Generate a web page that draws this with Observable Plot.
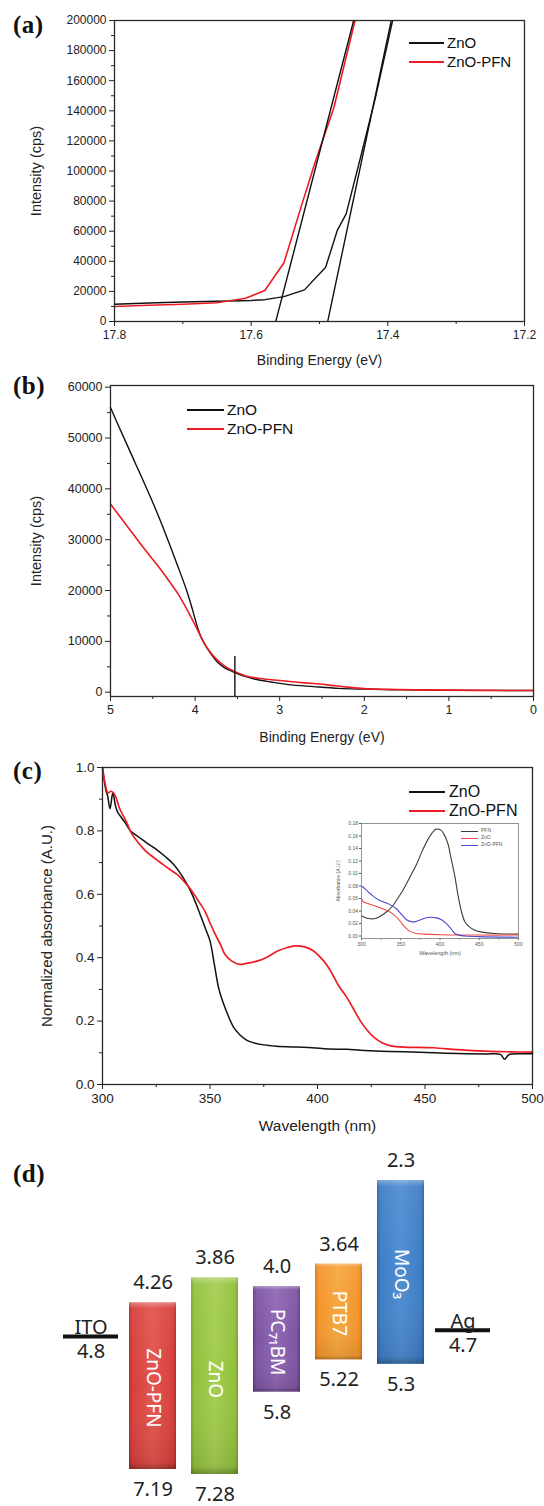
<!DOCTYPE html>
<html><head><meta charset="utf-8">
<script src="https://cdn.jsdelivr.net/npm/d3@7"></script>
<script src="https://cdn.jsdelivr.net/npm/@observablehq/plot@0.6"></script>
<style>
body{margin:0;background:#fff;}
#fig{position:relative;width:544px;height:1506px;overflow:hidden;background:#fff;font-family:"Liberation Sans",Arial,Helvetica,sans-serif;color:#222;}
.plabel{position:absolute;left:13px;font-family:"Liberation Serif","Times New Roman",serif;font-weight:bold;font-size:25px;line-height:1;letter-spacing:0.5px;color:#111;}
</style></head>
<body>
<svg width="0" height="0" style="position:absolute;left:0;top:0"><defs id="gdefs"></defs></svg>
<div id="fig"></div>
<script>
// ---------------- DATA ----------------
// (a) secondary-electron cutoff region
const aXDomain = [17.8, 17.2];
const aYDomain = [0, 200000];
const aXTicks = [17.8, 17.6, 17.4, 17.2];
const aXMinor = [17.7, 17.5, 17.3];
const aYTicks = [0, 20000, 40000, 60000, 80000, 100000, 120000, 140000, 160000, 180000, 200000];
const aYMinor = [10000, 30000, 50000, 70000, 90000, 110000, 130000, 150000, 170000, 190000];
const aZnO = [[17.8,11500],[17.75,12300],[17.7,13000],[17.65,13500],[17.6,14000],[17.58,14500],[17.552,16500],[17.522,21000],[17.491,36000],[17.474,60500],[17.461,71500],[17.44,109000],[17.418,149000],[17.393,200000]];
const aPFN = [[17.8,10000],[17.75,10800],[17.7,11500],[17.65,12500],[17.608,15500],[17.58,20600],[17.552,39000],[17.527,76000],[17.507,105000],[17.479,142000],[17.448,200000]];
const aFit1 = [[17.564,0],[17.450,200000]];
const aFit2 = [[17.488,0],[17.395,200000]];

// (b) valence band region
const bXDomain = [5, 0];
const bYDomain = [-846, 60330];
const bXTicks = [5, 4, 3, 2, 1, 0];
const bXMinor = [4.5, 3.5, 2.5, 1.5, 0.5];
const bYTicks = [0, 10000, 20000, 30000, 40000, 50000, 60000];
const bYMinor = [5000, 15000, 25000, 35000, 45000, 55000];
const bZnO = [[5.0,56000],[4.9,52200],[4.8,48500],[4.7,44800],[4.6,41100],[4.5,37300],[4.4,33300],[4.3,29000],[4.2,24600],[4.1,20000],[4.03,16200],[3.97,12700],[3.93,10900],[3.88,9300],[3.82,7700],[3.74,6000],[3.65,4800],[3.55,4000],[3.45,3300],[3.3,2600],[3.1,2000],[2.9,1500],[2.6,1100],[2.3,750],[2.0,600],[1.5,450],[1.0,380],[0.5,350],[0,330]];
const bPFN = [[5.0,37000],[4.9,34800],[4.8,32600],[4.7,30400],[4.6,28200],[4.5,26100],[4.4,24000],[4.3,21700],[4.2,19300],[4.1,16400],[4.0,13200],[3.95,11500],[3.9,9800],[3.84,8300],[3.76,6700],[3.68,5500],[3.6,4600],[3.52,4000],[3.4,3200],[3.23,2700],[3.0,2300],[2.82,2000],[2.6,1700],[2.41,1400],[2.2,1000],[2.0,700],[1.7,550],[1.39,450],[1.0,400],[0.5,350],[0,330]];
const bOnset = [3.53];
const bOnsetTop = 7000;

// (c) normalized absorbance
const cXDomain = [300, 500];
const cYDomain = [0, 1];
const cXTicks = [300, 350, 400, 450, 500];
const cXMinor = [325, 375, 425, 475];
const cYTicks = [0, 0.2, 0.4, 0.6, 0.8, 1.0];
const cYMinor = [0.1, 0.3, 0.5, 0.7, 0.9];
const cZnO = [[300,1.0],[301.5,0.93],[302.4,0.91],[303.5,0.87],[304.8,0.92],[306,0.88],[307,0.86],[309,0.84],[310.5,0.826],[313,0.80],[317,0.78],[321,0.76],[325,0.742],[329,0.72],[333,0.695],[337,0.658],[341,0.61],[343.5,0.57],[346,0.526],[348,0.49],[350,0.453],[352,0.38],[354,0.305],[356,0.26],[358.9,0.21],[361,0.18],[363.7,0.158],[367,0.14],[370,0.132],[375,0.125],[381,0.121],[390,0.118],[397.6,0.116],[405,0.112],[413.7,0.111],[420,0.108],[430,0.105],[440,0.103],[454,0.1],[465,0.098],[478,0.096],[485,0.095],[487,0.08],[489,0.094],[495,0.097],[500,0.097]];
const cPFN = [[300,1.0],[301.5,0.94],[302.5,0.92],[304,0.925],[305.6,0.916],[307,0.89],[308,0.87],[311,0.83],[313.7,0.79],[317,0.76],[320,0.737],[324,0.715],[328,0.695],[331,0.68],[334.7,0.663],[338,0.64],[341,0.616],[344,0.585],[347.6,0.547],[350,0.51],[352.4,0.474],[355,0.44],[357,0.41],[360,0.39],[363.7,0.379],[367,0.382],[371.8,0.389],[376,0.4],[381.5,0.421],[386,0.432],[389.5,0.437],[394,0.434],[398,0.422],[400.8,0.405],[404,0.38],[407,0.347],[410,0.31],[413.7,0.274],[417,0.235],[420,0.2],[423,0.172],[426.6,0.147],[430,0.132],[434.7,0.121],[440,0.118],[454,0.116],[465,0.11],[478,0.105],[490,0.103],[500,0.102]];

// (c) inset
const iXDomain = [300, 500];
const iYDomain = [-0.004, 0.18];
const iXTicks = [300, 350, 400, 450, 500];
const iXMinor = [325, 375, 425, 475];
const iYTicks = [0, 0.02, 0.04, 0.06, 0.08, 0.10, 0.12, 0.14, 0.16, 0.18];
const iPFN = [[300,0.0325],[304,0.03],[308.8,0.028],[317.7,0.028],[326.5,0.0335],[333,0.04],[339.7,0.048],[346,0.06],[353,0.0735],[362,0.095],[370.6,0.116],[377,0.135],[384,0.153],[390,0.165],[395,0.171],[401.5,0.169],[405,0.163],[410,0.148],[414,0.125],[419,0.095],[423,0.065],[428,0.036],[432,0.022],[437,0.015],[443,0.01],[450,0.007],[470,0.004],[500,0.003]];
const iZnO = [[300,0.06],[302,0.055],[308,0.052],[317.7,0.048],[331,0.0415],[338,0.037],[344,0.031],[349,0.024],[353,0.0175],[358,0.011],[362,0.007],[370,0.004],[379.5,0.003],[400,0.002],[450,0.0015],[500,0.0015]];
const iZnOPFN = [[300,0.08],[305,0.075],[311,0.068],[322,0.0575],[335,0.051],[344,0.044],[350,0.036],[357.4,0.026],[363,0.023],[369,0.023],[379.5,0.028],[388,0.03],[395,0.029],[401.5,0.0265],[406,0.022],[410,0.0175],[415,0.01],[419,0.004],[425,0.001],[432,0],[450,-0.001],[500,-0.002]];

// (d) energy levels
const levelOrder = ["ITO", "ZnO-PFN", "ZnO", "PC71BM", "PTB7", "MoO3", "Ag"];
const barNames = ["ZnO-PFN", "ZnO", "PC71BM", "PTB7", "MoO3"];
const barLabels = ["ZnO-PFN", "ZnO", "PC\u2087\u2081BM", "PTB7", "MoO\u2083"];
const barTop = [4.26, 3.86, 4.0, 3.64, 2.3];
const barBottom = [7.19, 7.28, 5.8, 5.22, 5.3];
const electrodeNames = ["ITO", "Ag"];
const electrodeValues = [4.8, 4.7];

const seriesNames = ["ZnO", "ZnO-PFN"];
const insetNames = ["PFN", "ZnO", "ZnO-PFN"];

// ---------------- STYLE ----------------
const BLACK = "#111", RED = "#ec1c24";
const INSET_COLORS = ["#3c3c3c", "#f04848", "#4a4ad0"];
const FONT = "'Liberation Sans', Arial, Helvetica, sans-serif";
const DFONT = "'Noto Sans', 'DejaVu Sans', sans-serif";
const barPalette = [
  ["#b02e2b", "#d63f3b", "#e2554f"],
  ["#76a42b", "#92c03e", "#a4ce50"],
  ["#5f3e86", "#7d54a3", "#8f67b3"],
  ["#d77816", "#f2952b", "#f7a741"],
  ["#2b62a5", "#3e7dc5", "#4f8dd2"]
];
const defs = document.getElementById("gdefs");
let gd = "";
barPalette.forEach(([dk, base, lt], i) => {
  gd += `<linearGradient id="gbar${i}" x1="0" x2="1" y1="0" y2="0">
    <stop offset="0" stop-color="${dk}"/><stop offset="0.07" stop-color="${base}"/>
    <stop offset="0.5" stop-color="${lt}"/><stop offset="0.93" stop-color="${base}"/>
    <stop offset="1" stop-color="${dk}"/></linearGradient>`;
});
gd += `<linearGradient id="vshade" x1="0" x2="0" y1="0" y2="1">
  <stop offset="0" stop-color="#fff" stop-opacity="0.35"/><stop offset="0.035" stop-color="#fff" stop-opacity="0.06"/>
  <stop offset="0.5" stop-color="#fff" stop-opacity="0"/><stop offset="0.96" stop-color="#000" stop-opacity="0.08"/>
  <stop offset="1" stop-color="#000" stop-opacity="0.3"/></linearGradient>`;
defs.innerHTML = gd;

const fig = document.getElementById("fig");
function place(node, top, left = 0) {
  node.style.position = "absolute";
  node.style.top = top + "px";
  node.style.left = left + "px";
  fig.appendChild(node);
}
const px = d => d[0], py = d => d[1];
const plotStyle = fs => ({fontFamily: FONT, fontSize: fs + "px", color: "#222", background: "transparent", overflow: "visible"});
function axes(xt, xm, yt, ym, xf, yf, fs, big = 5, small = 3) {
  return [
    Plot.axisY({ticks: yt, tickSize: big, tickPadding: 3, tickFormat: yf, label: null, fontSize: fs}),
    Plot.axisY({ticks: ym, tickSize: small, tickFormat: () => "", label: null}),
    Plot.axisX({ticks: xt, tickSize: big, tickPadding: 4, tickFormat: xf, label: null, fontSize: fs}),
    Plot.axisX({ticks: xm, tickSize: small, tickFormat: () => "", label: null})
  ];
}
function xTitle(s, dy, fs) {
  return Plot.text([s], {text: d => d, frameAnchor: "bottom", dy, fontSize: fs, textAnchor: "middle", lineAnchor: "middle"});
}
function yTitle(s, dx, fs) {
  return Plot.text([s], {text: d => d, frameAnchor: "left", dx, rotate: -90, fontSize: fs, textAnchor: "middle", lineAnchor: "middle"});
}

// ---------- (a) ----------
const A = Plot.plot({
  width: 544, height: 380, marginTop: 20, marginRight: 20, marginBottom: 59, marginLeft: 114,
  style: plotStyle(12),
  x: {domain: aXDomain, label: null}, y: {domain: aYDomain, label: null},
  marks: [
    ...axes(aXTicks, aXMinor, aYTicks, aYMinor, d => d.toFixed(1), d => String(d), 12),
    Plot.line(aZnO, {x: px, y: py, stroke: BLACK, strokeWidth: 1.4, clip: true}),
    Plot.line(aPFN, {x: px, y: py, stroke: RED, strokeWidth: 1.6, clip: true}),
    Plot.line(aFit1, {x: px, y: py, stroke: BLACK, strokeWidth: 1.4, clip: true}),
    Plot.line(aFit2, {x: px, y: py, stroke: BLACK, strokeWidth: 1.4, clip: true}),
    Plot.frame({stroke: "#2a2a2a", strokeWidth: 1.3}),
    xTitle("Binding Energy (eV)", 39, 14),
    yTitle("Intensity (cps)", -78, 14.5)
  ]
});
place(A, 0);

// ---------- (b) ----------
const B = Plot.plot({
  width: 544, height: 380, marginTop: 15, marginRight: 11, marginBottom: 54, marginLeft: 110,
  style: plotStyle(12.5),
  x: {domain: bXDomain, label: null}, y: {domain: bYDomain, label: null},
  marks: [
    ...axes(bXTicks, bXMinor, bYTicks, bYMinor, d => String(d), d => String(d), 12.5),
    Plot.line(bZnO, {x: px, y: py, stroke: BLACK, strokeWidth: 1.4, curve: "catmull-rom"}),
    Plot.line(bPFN, {x: px, y: py, stroke: RED, strokeWidth: 1.6, curve: "catmull-rom"}),
    Plot.ruleX(bOnset, {y1: bOnsetTop, y2: bYDomain[0], stroke: BLACK, strokeWidth: 1.4}),
    Plot.frame({stroke: "#2a2a2a", strokeWidth: 1.3}),
    xTitle("Binding Energy (eV)", 41, 14),
    yTitle("Intensity (cps)", -74, 14.5)
  ]
});
place(B, 370);

// ---------- (c) ----------
const C = Plot.plot({
  width: 544, height: 400, marginTop: 17, marginRight: 12, marginBottom: 66, marginLeft: 102,
  style: plotStyle(13.5),
  x: {domain: cXDomain, label: null}, y: {domain: cYDomain, label: null},
  marks: [
    ...axes(cXTicks, cXMinor, cYTicks, cYMinor, d => String(d), d => d.toFixed(1), 13.5),
    Plot.line(cZnO, {x: px, y: py, stroke: BLACK, strokeWidth: 1.5, curve: "catmull-rom"}),
    Plot.line(cPFN, {x: px, y: py, stroke: RED, strokeWidth: 1.7, curve: "catmull-rom"}),
    Plot.frame({stroke: "#2a2a2a", strokeWidth: 1.3}),
    xTitle("Wavelength (nm)", 42, 15.5),
    yTitle("Normalized absorbance (A.U.)", -55, 15)
  ]
});
place(C, 750);

// ---------- (c) inset ----------
const I = Plot.plot({
  width: 192, height: 152, marginTop: 8, marginRight: 4, marginBottom: 29, marginLeft: 31,
  style: {fontFamily: FONT, fontSize: "5px", color: "#555", background: "transparent", overflow: "visible"},
  x: {domain: iXDomain, label: null}, y: {domain: iYDomain, label: null},
  marks: [
    Plot.axisY({ticks: iYTicks, tickSize: 2, tickPadding: 1.5, tickFormat: d => d.toFixed(2), label: null, fontSize: 5}),
    Plot.axisX({ticks: iXTicks, tickSize: 2, tickPadding: 2, tickFormat: d => String(d), label: null, fontSize: 5}),
    Plot.axisX({ticks: iXMinor, tickSize: 1.5, tickFormat: () => "", label: null}),
    Plot.line(iPFN, {x: px, y: py, stroke: INSET_COLORS[0], strokeWidth: 1.1, curve: "catmull-rom"}),
    Plot.line(iZnO, {x: px, y: py, stroke: INSET_COLORS[1], strokeWidth: 1.1, curve: "catmull-rom"}),
    Plot.line(iZnOPFN, {x: px, y: py, stroke: INSET_COLORS[2], strokeWidth: 1.1, curve: "catmull-rom"}),
    Plot.frame({stroke: "#888", strokeWidth: 0.9}),
    Plot.text(["Wavelength (nm)"], {text: d => d, frameAnchor: "bottom", dy: 15, fontSize: 5.5, fill: "#555", textAnchor: "middle", lineAnchor: "middle"}),
    Plot.text(["Absorbance (A.U.)"], {text: d => d, frameAnchor: "left", dx: -23, rotate: -90, fontSize: 5, fill: "#555", textAnchor: "middle", lineAnchor: "middle"})
  ]
});
place(I, 815, 330);

// ---------- (d) ----------
const dBars = barNames.map((n, i) => ({name: n, label: barLabels[i], top: barTop[i], bottom: barBottom[i]}));
const dElec = electrodeNames.map((n, i) => ({name: n, value: electrodeValues[i]}));
const fmtE = v => Number.isInteger(v) ? v.toFixed(1) : String(v);
const D = Plot.plot({
  width: 544, height: 356, marginTop: 0, marginBottom: 0, marginLeft: 48.5, marginRight: 39.5,
  style: {fontFamily: DFONT, fontSize: "20px", color: "#222", background: "transparent", overflow: "visible"},
  x: {type: "band", domain: levelOrder, padding: 0.24, axis: null},
  y: {type: "linear", domain: [2.3, 4.8, 7.28], range: [30, 186, 324], zero: false, axis: null},
  marks: [
    ...dBars.map((d, i) => Plot.barY([d], {x: "name", y1: "top", y2: "bottom", fill: `url(#gbar${i})`})),
    Plot.barY(dBars, {x: "name", y1: "top", y2: "bottom", fill: "url(#vshade)"}),
    Plot.text(dBars, {x: "name", y: d => (d.top + d.bottom) / 2, text: "label", rotate: 90, fill: "white", fontSize: 19, fontFamily: DFONT}),
    Plot.text(dBars, {x: "name", y: "top", text: d => fmtE(d.top), dy: -20, fontSize: 20, fill: "#222"}),
    Plot.text(dBars, {x: "name", y: "bottom", text: d => fmtE(d.bottom), dy: 20, fontSize: 20, fill: "#222"}),
    Plot.tickY(dElec, {x: "name", y: "value", stroke: "#111", strokeWidth: 4, insetLeft: -4, insetRight: -4}),
    Plot.text(dElec, {x: "name", y: "value", text: "name", dy: -9, fontSize: 20, fill: "#222"}),
    Plot.text(dElec, {x: "name", y: "value", text: d => fmtE(d.value), dy: 15, fontSize: 20, fill: "#222"})
  ]
});
place(D, 1150);

// ---------- legends (HTML) ----------
function legend(names, colors, ys, x0, x1, xt, fs, lw, tc = "#111") {
  names.forEach((n, i) => {
    const ln = document.createElement("div");
    ln.style.cssText = `position:absolute;left:${x0}px;top:${ys[i] - lw / 2}px;width:${x1 - x0}px;height:${lw}px;background:${colors[i]};`;
    fig.appendChild(ln);
    const t = document.createElement("div");
    t.textContent = n;
    t.style.cssText = `position:absolute;left:${xt}px;top:${ys[i]}px;transform:translateY(-52%);font-size:${fs}px;line-height:1;white-space:nowrap;color:${tc};font-family:${FONT};`;
    fig.appendChild(t);
  });
}
legend(seriesNames, [BLACK, RED], [43, 62], 409, 444, 447, 15, 2);
legend(seriesNames, [BLACK, RED], [410, 429], 187, 224, 227, 15.5, 2);
legend(seriesNames, [BLACK, RED], [792, 811], 409, 445, 449, 16, 2);
legend(insetNames, INSET_COLORS, [831, 838, 845], 461, 478, 481, 5, 1, "#555");

// ---------- panel letters ----------
[["(a)", 12], ["(b)", 373], ["(c)", 758], ["(d)", 1161]].forEach(([s, t]) => {
  const el = document.createElement("div");
  el.className = "plabel";
  el.textContent = s;
  el.style.top = t + "px";
  fig.appendChild(el);
});
</script>
</body></html>
